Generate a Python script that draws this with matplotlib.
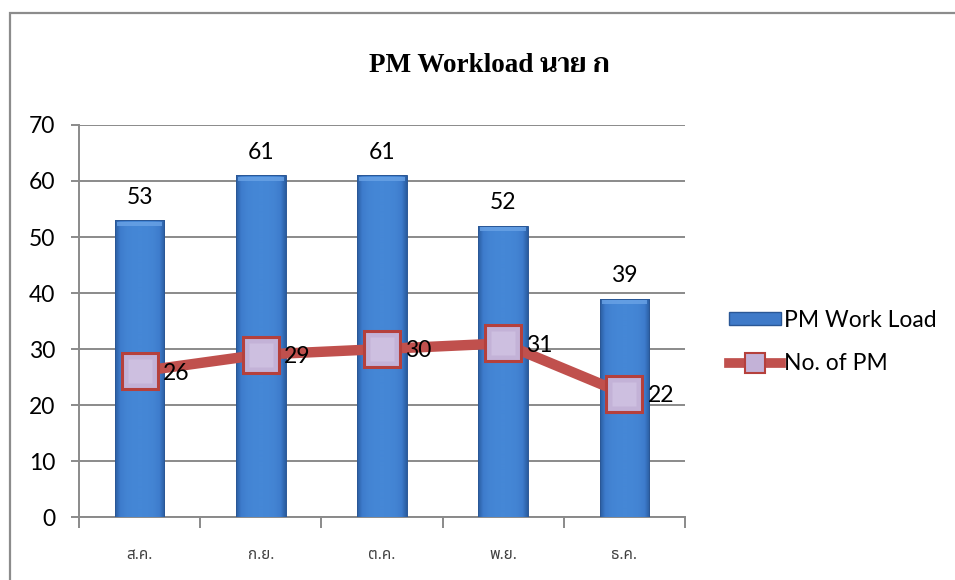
import matplotlib
matplotlib.use("Agg")
import matplotlib.pyplot as plt
import numpy as np
from matplotlib.patches import Rectangle
from matplotlib.lines import Line2D
from matplotlib.colors import LinearSegmentedColormap

months = ["ส.ค.", "ก.ย.", "ต.ค.", "พ.ย.", "ธ.ค."]
workload = [53, 61, 61, 52, 39]
pm_count = [26, 29, 30, 31, 22]
yticks = [0, 10, 20, 30, 40, 50, 60, 70]

NUM_FONT = ["Lato", "DejaVu Sans"]
THAI_FONT = ["Noto Sans Thai", "DejaVu Sans"]
TITLE_FONT = ["Liberation Serif", "Trirong"]

fig = plt.figure(figsize=(9.55, 5.8), dpi=100)
fig.patch.set_facecolor("white")

# outer chart frame (left and top edges visible)
fig.add_artist(Rectangle((10 / 955, -0.05), 1.2, (580 - 13) / 580 + 0.05,
                         transform=fig.transFigure, fill=False,
                         edgecolor="#8c8c8c", linewidth=1.6))

ax = fig.add_axes([79 / 955, 63 / 580, 606 / 955, 392 / 580])
x = np.arange(len(months))
ax.set_xlim(-0.5, len(months) - 0.5)
ax.set_ylim(0, 70)

# gridlines
for t in yticks:
    ax.axhline(t, color="#8a8a8a", linewidth=1.4, zorder=0)

bars = ax.bar(x, workload, width=0.41, color="#3f7ac8", edgecolor="none", zorder=2)

# shaded fill for each bar: narrow darker sides, even brighter middle
prof = np.array([0.0, 0.55, 0.85, 0.95, 1.0, 1.0, 0.95, 0.85, 0.55, 0.0])
cmap = LinearSegmentedColormap.from_list("barshade", ["#2a5c9f", "#3d7bcb", "#4587d6"])
for b in bars:
    x0, w, h = b.get_x(), b.get_width(), b.get_height()
    xs = np.linspace(0, 1, 200)
    row = np.interp(xs, np.linspace(0, 1, len(prof)), prof)
    img = np.tile(row, (50, 1))
    im = ax.imshow(img, extent=[x0, x0 + w, 0, h], aspect="auto", cmap=cmap,
                   vmin=0, vmax=1, zorder=3, origin="lower")
    im.set_clip_path(b)
    # light bevel on the top edge
    ax.add_patch(Rectangle((x0 + w * 0.04, h - 1.0), w * 0.92, 0.7,
                           facecolor="#6aa3e6", edgecolor="none", zorder=4, alpha=0.8))
    ax.add_patch(Rectangle((x0, 0), w, h, fill=False, edgecolor="#2a5796",
                           linewidth=0.7, zorder=4))

for xi, v in zip(x, workload):
    ax.text(xi, v + 2.2, str(v), ha="center", va="bottom",
            fontsize=16.5, family=NUM_FONT, color="black", zorder=6)

ax.plot(x, pm_count, color="#c0504d", linewidth=7.5, zorder=5,
        solid_capstyle="round", solid_joinstyle="round",
        marker="s", markersize=26, markerfacecolor="#c3b2d7",
        markeredgecolor="#b5403c", markeredgewidth=2.2)
ax.plot(x, pm_count, linestyle="none", marker="s", markersize=17,
        markerfacecolor="#cdbfe0", markeredgecolor="none", zorder=5.5)

for xi, v in zip(x, pm_count):
    ax.text(xi + 0.19, v - 0.3, str(v), ha="left", va="center",
            fontsize=16.5, family=NUM_FONT, color="black", zorder=6)

# axes styling
for s in ["top", "right"]:
    ax.spines[s].set_visible(False)
for s in ["left", "bottom"]:
    ax.spines[s].set_color("#8a8a8a")
    ax.spines[s].set_linewidth(1.4)

ax.set_yticks(yticks)
ax.set_yticklabels([str(t) for t in yticks], family=NUM_FONT, fontsize=16.5)
ax.tick_params(axis="y", length=6, width=1.4, color="#8a8a8a", pad=11)

ax.set_xticks(x)
ax.set_xticklabels(months, family=THAI_FONT, fontsize=11, color="#404040")
ax.tick_params(axis="x", length=0, pad=22)
ax.set_xticks(np.arange(-0.5, len(months)), minor=True)
ax.tick_params(axis="x", which="minor", length=8, width=1.4, color="#8a8a8a")

fig.text(489 / 955, 1 - 66 / 580, "PM Workload นาย ก", ha="center", va="center",
         fontsize=19.5, fontweight="bold", family=TITLE_FONT)

# legend
handles = [
    Rectangle((0, 0), 1, 1, facecolor="#3f7ac8", edgecolor="#2a5796"),
    Line2D([0], [0], color="#c0504d", linewidth=7, marker="s", markersize=15,
           markerfacecolor="#c3b2d7", markeredgecolor="#b5403c", markeredgewidth=1.5),
]
fig.legend(handles, ["PM Work Load", "No. of PM"], loc="center left",
           bbox_to_anchor=(708 / 955, 1 - 342 / 580), frameon=False,
           prop={"family": NUM_FONT, "size": 16.5}, handlelength=2.3,
           handleheight=0.45, handletextpad=0.1, labelspacing=1.0)

fig.savefig("out.png", dpi=100, facecolor="white")
